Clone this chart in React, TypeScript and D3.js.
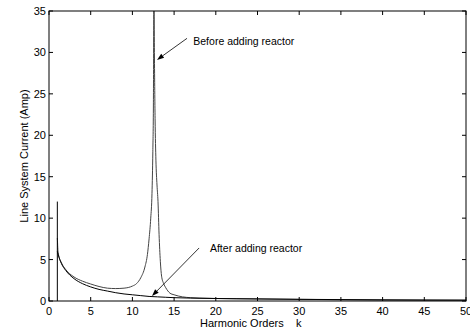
import { useEffect, useRef } from 'react'
import * as d3 from 'd3'

// harmonic order k, current (Amp)
const beforeK = [1, 1.1, 1.5, 2, 3, 4, 5, 6, 7, 8, 9, 10, 10.5, 11, 11.5, 11.8, 12, 12.2, 12.35, 12.45, 12.52, 12.58, 12.64, 12.72, 12.82, 12.95, 13.07, 13.2, 13.35, 13.5, 13.75, 14, 14.5, 15, 16, 17, 18, 20, 25, 30, 35, 40, 45, 50]
const beforeI = [7.6, 5.8, 4.6, 3.8, 2.9, 2.4, 2.05, 1.75, 1.55, 1.5, 1.55, 1.8, 2.1, 2.8, 4.1, 5.6, 7.5, 10, 13, 18, 24, 40, 30, 22, 17, 14, 12, 8, 4.8, 3.0, 2.1, 1.6, 0.95, 0.75, 0.5, 0.4, 0.35, 0.3, 0.25, 0.2, 0.15, 0.12, 0.1, 0.1]

const afterK = [1, 1.1, 1.5, 2, 3, 4, 5, 6, 7, 8, 9, 10, 11, 12, 13, 14, 15, 17, 20, 25, 30, 35, 40, 45, 50]
const afterI = [6.0, 5.6, 4.5, 3.7, 2.7, 2.1, 1.7, 1.4, 1.2, 1.0, 0.85, 0.75, 0.65, 0.55, 0.5, 0.45, 0.4, 0.35, 0.3, 0.25, 0.2, 0.17, 0.14, 0.12, 0.1]

// fundamental component stem
const fundK = [1]
const fundI = [12]

const xTicks = [0, 5, 10, 15, 20, 25, 30, 35, 40, 45, 50]
const yTicks = [0, 5, 10, 15, 20, 25, 30, 35]

const notes = [
  { label: 'Before adding reactor', tx: 17.3, ty: 31.4, fromK: 16.55, fromI: 31.7, toK: 12.95, toI: 29.1 },
  { label: 'After adding reactor', tx: 19.3, ty: 6.4, fromK: 18.0, fromI: 6.4, toK: 12.35, toI: 0.6 },
]

export default function App() {
  const svgRef = useRef<SVGSVGElement>(null)

  useEffect(() => {
    const svgEl = svgRef.current
    if (!svgEl) return
    const W = 470, H = 331
    const m = { top: 11, right: 4, bottom: 30, left: 49 }
    const iw = W - m.left - m.right
    const ih = H - m.top - m.bottom

    const root = d3.select(svgEl)
    root.selectAll('*').remove()
    root.attr('width', W).attr('height', H)

    const x = d3.scaleLinear().domain([0, 50]).range([0, iw])
    const y = d3.scaleLinear().domain([0, 35]).range([ih, 0])

    const g = root.append('g').attr('transform', `translate(${m.left},${m.top})`)
    const font = 'Liberation Sans, Arial, sans-serif'

    root.append('defs').append('clipPath').attr('id', 'plotclip')
      .append('rect').attr('width', iw).attr('height', ih)

    const plot = g.append('g').attr('clip-path', 'url(#plotclip)')

    const mk = (ks: number[], vs: number[]) =>
      d3.line<number>().x((_, i) => x(ks[i])).y(v => y(v)).curve(d3.curveMonotoneX)(vs)

    plot.append('path').attr('d', mk(beforeK, beforeI) ?? '')
      .attr('fill', 'none').attr('stroke', '#444').attr('stroke-width', 1)
    plot.append('path').attr('d', mk(afterK, afterI) ?? '')
      .attr('fill', 'none').attr('stroke', '#000').attr('stroke-width', 1)
    fundK.forEach((k, i) => {
      plot.append('line')
        .attr('x1', x(k)).attr('x2', x(k)).attr('y1', y(0)).attr('y2', y(fundI[i]))
        .attr('stroke', '#000').attr('stroke-width', 1)
    })

    // box with inward ticks on all sides
    g.append('rect').attr('width', iw).attr('height', ih)
      .attr('fill', 'none').attr('stroke', '#000').attr('stroke-width', 1)
    const tl = 4
    xTicks.forEach(t => {
      g.append('line').attr('x1', x(t)).attr('x2', x(t)).attr('y1', ih).attr('y2', ih - tl).attr('stroke', '#000')
      g.append('line').attr('x1', x(t)).attr('x2', x(t)).attr('y1', 0).attr('y2', tl).attr('stroke', '#000')
      g.append('text').attr('x', x(t)).attr('y', ih + 14)
        .attr('text-anchor', 'middle').attr('font-family', font).attr('font-size', 11)
        .text(t)
    })
    yTicks.forEach(t => {
      g.append('line').attr('x1', 0).attr('x2', tl).attr('y1', y(t)).attr('y2', y(t)).attr('stroke', '#000')
      g.append('line').attr('x1', iw).attr('x2', iw - tl).attr('y1', y(t)).attr('y2', y(t)).attr('stroke', '#000')
      g.append('text').attr('x', -3).attr('y', y(t) + 4)
        .attr('text-anchor', 'end').attr('font-family', font).attr('font-size', 11)
        .text(t)
    })

    g.append('text')
      .attr('x', 151).attr('y', ih + 26)
      .attr('font-family', font).attr('font-size', 11)
      .text('Harmonic Orders\u00a0\u00a0\u00a0\u00a0k')
    g.append('text')
      .attr('transform', 'rotate(-90)')
      .attr('x', -145).attr('y', -21)
      .attr('text-anchor', 'middle').attr('font-family', font).attr('font-size', 11)
      .text('Line System Current (Amp)')

    notes.forEach(n => {
      const x1 = x(n.fromK), y1 = y(n.fromI), x2 = x(n.toK), y2 = y(n.toI)
      const ang = Math.atan2(y2 - y1, x2 - x1)
      const hl = 7, hw = 2.5
      const bx = x2 - hl * Math.cos(ang), by = y2 - hl * Math.sin(ang)
      g.append('line').attr('x1', x1).attr('y1', y1).attr('x2', bx).attr('y2', by)
        .attr('stroke', '#000').attr('stroke-width', 0.8)
      g.append('path')
        .attr('d', `M${x2},${y2}L${bx - hw * Math.sin(ang)},${by + hw * Math.cos(ang)}L${bx + hw * Math.sin(ang)},${by - hw * Math.cos(ang)}Z`)
        .attr('fill', '#000')
      g.append('text').attr('x', x(n.tx)).attr('y', y(n.ty) + 4)
        .attr('font-family', font).attr('font-size', 10.5)
        .text(n.label)
    })
  }, [])

  return (
    <div style={{ position: 'absolute', left: 0, top: 0, background: '#fff' }}>
      <svg ref={svgRef} style={{ display: 'block' }} />
    </div>
  )
}
